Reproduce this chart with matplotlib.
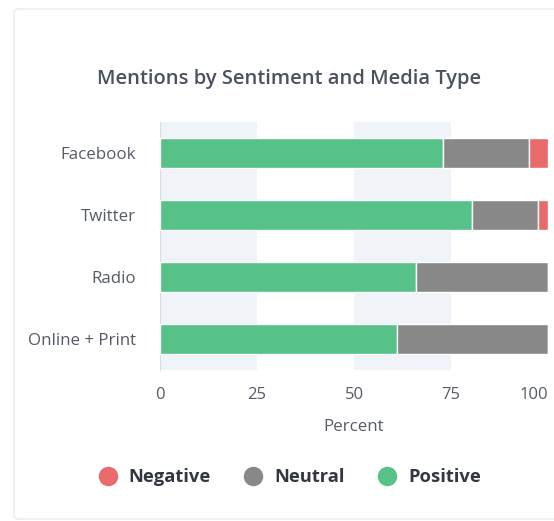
import matplotlib
matplotlib.use('Agg')
import matplotlib.pyplot as plt
from matplotlib.patches import FancyBboxPatch
from matplotlib.lines import Line2D

# data (percent of mentions)
media = ['Facebook', 'Twitter', 'Radio', 'Online + Print']
positive = [73, 80.5, 66, 61]
neutral = [22, 17, 34, 39]
negative = [5, 2.5, 0, 0]
ticks = [0, 25, 50, 75, 100]

C_POS = '#56c288'
C_NEU = '#888888'
C_NEG = '#e86a6b'
TXT = '#555b66'

plt.rcParams['font.family'] = ['Open Sans', 'DejaVu Sans']

W, H = 554, 521
fig = plt.figure(figsize=(W / 100, H / 100), dpi=100)

# card outline
card = FancyBboxPatch((14 / W, 2 / H), 1.2, (519 - 9) / H, boxstyle='round,pad=0,rounding_size=0.008',
                      transform=fig.transFigure, fc='white', ec='#e9ebef', lw=1.0, zorder=-5)
fig.patches.append(card)

ax = fig.add_axes([160 / W, 1 - 370 / H, (548 - 160) / W, (370 - 122) / H])
ax.set_facecolor('none')
ax.set_zorder(2)

y = list(range(len(media)))
h = 0.475
ax.barh(y, positive, height=h, color=C_POS, edgecolor='white', lw=1, zorder=3)
left2 = positive
ax.barh(y, neutral, left=left2, height=h, color=C_NEU, edgecolor='white', lw=1, zorder=3)
left3 = [p + n for p, n in zip(positive, neutral)]
ax.barh(y, negative, left=left3, height=h, color=C_NEG, edgecolor='white', lw=1, zorder=3)

# alternating background bands
for i in range(0, len(ticks) - 1, 2):
    ax.axvspan(ticks[i], ticks[i + 1], color='#f0f3f7', zorder=0, lw=0)

ax.set_xlim(0, 100)
ax.set_ylim(len(media) - 0.5, -0.5)
ax.set_yticks(y)
ax.set_yticklabels(media, fontsize=12.2, color=TXT)
ax.set_xticks(ticks)
ax.set_xticklabels([str(t) for t in ticks], fontsize=12, color=TXT)
ax.get_xticklabels()[-1].set_horizontalalignment('right')
ax.tick_params(length=0, pad=17, axis='y')
ax.tick_params(length=0, pad=12, axis='x')
for s in ['top', 'right', 'bottom']:
    ax.spines[s].set_visible(False)
ax.spines['left'].set_color('#d8dce3')
ax.set_xlabel('Percent', fontsize=12.2, color=TXT, labelpad=12)

fig.text(289 / W, 1 - 79 / H, 'Mentions by Sentiment and Media Type', ha='center', va='center',
         fontsize=14.5, fontweight='semibold', color='#4a5260')

handles = [Line2D([], [], marker='o', ls='', color=c, markersize=13) for c in (C_NEG, C_NEU, C_POS)]
leg = fig.legend(handles, ['Negative', 'Neutral', 'Positive'], loc='center', ncol=3,
                 bbox_to_anchor=(285 / W, 1 - 477 / H), frameon=False, handletextpad=0.15,
                 columnspacing=1.3, prop={'size': 13.2, 'weight': 'bold'})
for t in leg.get_texts():
    t.set_color('#333740')

fig.savefig('out.png', dpi=100)
